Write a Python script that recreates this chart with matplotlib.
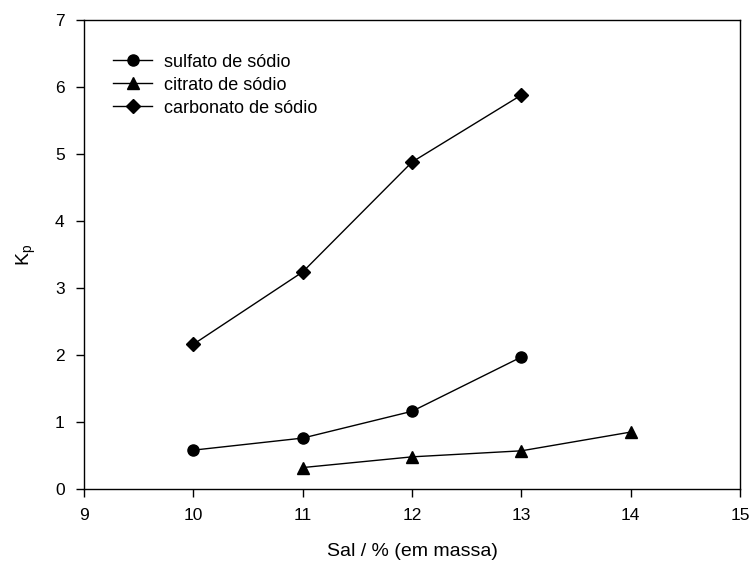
import matplotlib
matplotlib.use("Agg")
import matplotlib.pyplot as plt

plt.rcParams['font.family'] = ['Liberation Sans', 'DejaVu Sans']

x_sulfato = [10, 11, 12, 13]
y_sulfato = [0.58, 0.76, 1.16, 1.97]
x_citrato = [11, 12, 13, 14]
y_citrato = [0.32, 0.48, 0.57, 0.85]
x_carbonato = [10, 11, 12, 13]
y_carbonato = [2.16, 3.24, 4.88, 5.88]
labels = ["sulfato de sódio", "citrato de sódio", "carbonato de sódio"]

fig = plt.figure(figsize=(7.51, 5.65), dpi=100)
ax = fig.add_axes([0.1119, 0.1345, 0.8735, 0.8301])

kw = dict(color='black', lw=1.0, markersize=8)
ax.plot(x_sulfato, y_sulfato, marker='o', label=labels[0], **kw)
ax.plot(x_citrato, y_citrato, marker='^', label=labels[1], **kw)
ax.plot(x_carbonato, y_carbonato, marker='D', label=labels[2], color='black', lw=1.0, markersize=7)

ax.set_xlim(9, 15)
ax.set_ylim(0, 7)
ax.set_xticks(range(9, 16))
ax.set_yticks(range(0, 8))
ax.tick_params(direction='out', length=6, width=1, labelsize=12.5, top=False, right=False, pad=8)
for s in ax.spines.values():
    s.set_linewidth(1.0)

ax.set_xlabel("Sal / % (em massa)", fontsize=14, labelpad=14)
ax.set_ylabel("K$_\\mathregular{p}$", fontsize=14, labelpad=12)

ax.legend(loc='upper left', bbox_to_anchor=(0.019, 0.963), frameon=False, fontsize=13,
          handlelength=2.2, handletextpad=0.65, labelspacing=0.33)

fig.savefig("out.png", dpi=100)
